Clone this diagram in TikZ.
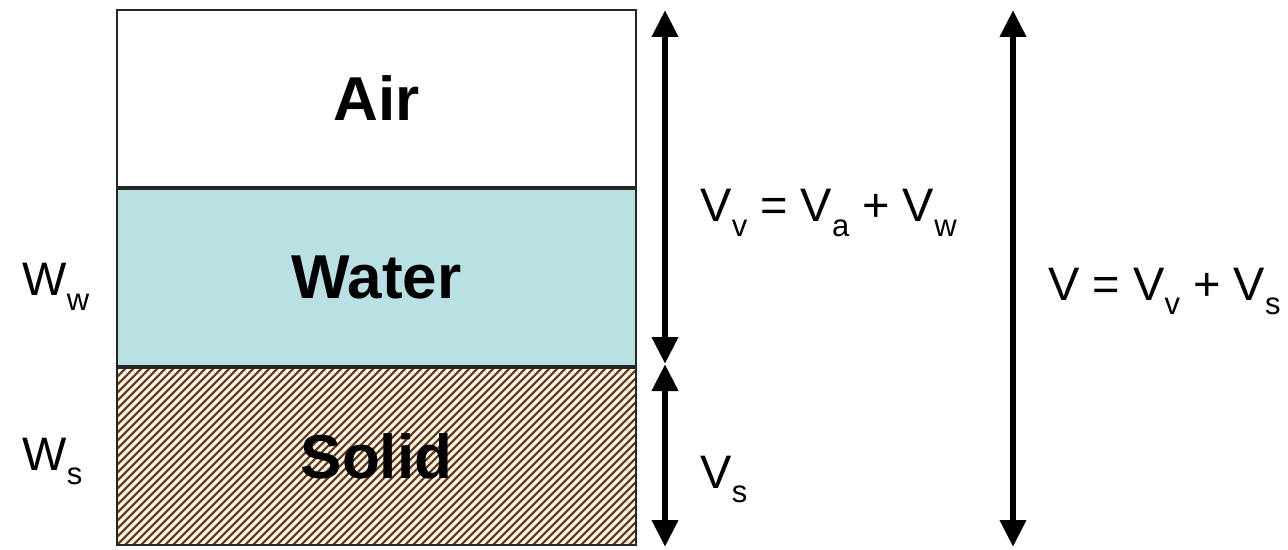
\documentclass[tikz,border=0pt]{standalone}
\usepackage{fontspec}
\setmainfont{Liberation Sans}
\usetikzlibrary{arrows.meta, positioning, calc}

\definecolor{waterblue}{RGB}{185,224,226}
\definecolor{soilbrown}{RGB}{112,62,14}
\newcommand{\lowsub}[1]{\raisebox{-0.3em}{\fontsize{15.5}{16}\selectfont #1}}

\begin{document}
\begin{tikzpicture}[
    x=0.5pt, y=-0.5pt,
    layer/.style ={rectangle, draw=black!85, line width=1pt, minimum width=259.5pt, minimum height=88.5pt, inner sep=0pt, font=\fontsize{31}{36}\selectfont\bfseries},
    hatchline/.style={draw=soilbrown, line width=1.1pt},
    lbl/.style   ={anchor=base west, inner sep=0pt, font=\fontsize{23.5}{28}\selectfont},
    dimarrow/.style={line width=3.3pt, {Triangle[length=13.5pt,width=12.5pt]}-{Triangle[length=13.5pt,width=12.5pt]}},
]
\useasboundingbox (0,0) rectangle (1288,550);
\node[layer, fill=white] (air) at (376.5,98.5) {Air};
\node[layer, fill=waterblue, below=0pt of air] (water) {Water};
\node[layer, fill=white, below=0pt of water, path picture={
    \foreach \k in {-200,-192,...,540}
      \draw[hatchline] ([xshift=\k*0.5pt]path picture bounding box.south west) -- ++(190,-190);
  }] (solid) {Solid};
% dimension arrows
\coordinate (vtop)  at (665,10);
\coordinate (vmid)  at (665,364);
\coordinate (vbot)  at (665,547);
\coordinate (ttop)  at (1013,10);
\coordinate (tbot)  at (1013,547);
\draw[dimarrow] (vtop) -- (vmid);
\draw[dimarrow] (vmid) -- (vbot);
\draw[dimarrow] (ttop) -- (tbot);
% labels
\node[lbl] (vv) at (700,222)  {V\lowsub{v} = V\lowsub{a} + V\lowsub{w}};
\node[lbl] (vs) at (700,488)  {V\lowsub{s}};
\node[lbl] (vt) at (1048,300) {V = V\lowsub{v} + V\lowsub{s}};
\node[lbl] (ww) at (22,296)   {W\lowsub{w}};
\node[lbl] (ws) at (22,470)   {W\lowsub{s}};
\end{tikzpicture}
\end{document}
